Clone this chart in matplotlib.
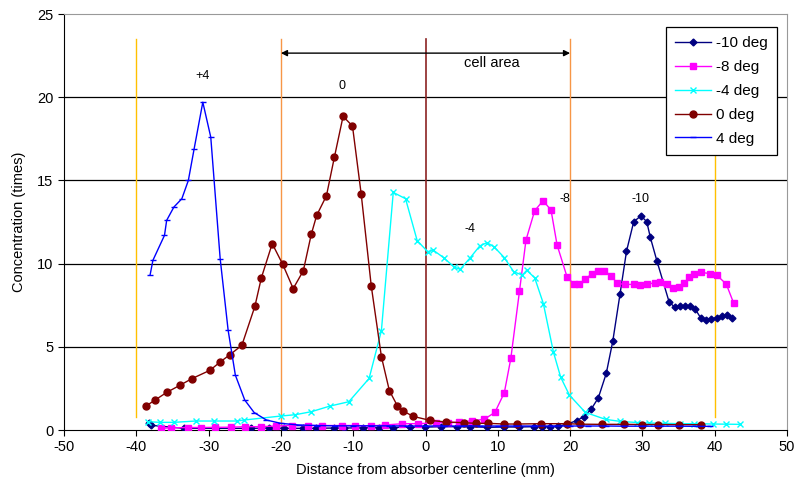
import matplotlib
matplotlib.use("Agg")
import matplotlib.pyplot as plt

plt.rcParams['font.family'] = ['Liberation Sans', 'DejaVu Sans']
plt.rcParams['axes.unicode_minus'] = False

# ---- data ----
x_p4 = [-38.1, -37.7, -36.1, -35.8, -34.8, -33.7, -32.8, -32.0, -30.8, -29.7, -28.4, -27.3,
        -26.3, -25.0, -23.7, -22.0, -20.0, -17.5, -15.0, -12.5, -10.0, -7.5, -5.0, -2.5, 0.0,
        2.5, 5.0, 7.5, 10.0, 12.5, 15.0, 17.5, 20.0, 22.5, 25.0, 27.5, 30.0, 32.5, 35.0, 37.5, 39.4]
y_p4 = [9.3, 10.2, 11.7, 12.6, 13.4, 13.9, 15.0, 16.9, 19.7, 17.6, 10.3, 6.0,
        3.3, 1.8, 1.05, 0.6, 0.4, 0.3, 0.27, 0.25, 0.25, 0.25, 0.25, 0.24, 0.24,
        0.24, 0.24, 0.24, 0.24, 0.24, 0.24, 0.24, 0.24, 0.24, 0.24, 0.23, 0.23, 0.23, 0.23, 0.22, 0.22]

x_0 = [-38.6, -37.4, -35.8, -34.0, -32.3, -29.8, -28.4, -27.1, -25.4, -23.6, -22.7, -21.2,
       -19.75, -18.3, -16.9, -15.8, -15.05, -13.7, -12.6, -11.4, -10.1, -8.9, -7.5, -6.1,
       -5.0, -3.9, -3.1, -1.7, 0.6, 2.9, 5.3, 7.0, 8.7, 10.9, 12.7, 16.0, 19.6, 21.4, 24.4,
       27.4, 29.9, 32.2, 35.0, 38.1]
y_0 = [1.46, 1.8, 2.26, 2.68, 3.09, 3.59, 4.09, 4.51, 5.09, 7.43, 9.15, 11.2,
       9.96, 8.5, 9.57, 11.76, 12.9, 14.08, 16.4, 18.85, 18.27, 14.2, 8.65, 4.41,
       2.37, 1.46, 1.14, 0.82, 0.58, 0.48, 0.44, 0.4, 0.4, 0.36, 0.36, 0.38, 0.38, 0.35, 0.34,
       0.34, 0.33, 0.33, 0.32, 0.32]

x_m4 = [-38.4, -36.7, -34.8, -31.8, -29.2, -26.1, -25.1, -20.0, -18.0, -15.8, -13.2, -10.6,
        -7.8, -6.1, -4.46, -2.76, -1.15, 0.3, 1.1, 2.5, 4.0, 4.8, 6.2, 7.5, 8.5, 9.5, 10.9,
        12.2, 13.4, 14.0, 15.1, 16.3, 17.7, 18.7, 19.9, 22.1, 24.9, 26.9, 29.2, 30.9, 33.1,
        35.2, 37.2, 39.8, 41.6, 43.5]
y_m4 = [0.5, 0.46, 0.46, 0.54, 0.54, 0.54, 0.6, 0.84, 0.92, 1.1, 1.44, 1.7,
        3.1, 5.97, 14.28, 13.9, 11.38, 10.72, 10.8, 10.36, 9.78, 9.66, 10.36, 11.06, 11.26, 11.0, 10.36,
        9.51, 9.31, 9.6, 9.15, 7.6, 4.67, 3.17, 2.1, 1.06, 0.64, 0.52, 0.45, 0.42, 0.4,
        0.38, 0.38, 0.36, 0.35, 0.34]

x_m8 = [-36.6, -35.2, -32.9, -31.1, -29.1, -26.9, -24.9, -22.8, -20.7, -18.5, -16.3, -14.3,
        -11.5, -9.8, -7.5, -5.6, -3.2, -1.0, 1.5, 3.1, 4.6, 6.4, 8.1, 9.6, 10.9, 11.8, 13.0,
        13.9, 15.1, 16.26, 17.36, 18.2, 19.6, 20.6, 21.2, 22.1, 23.0, 23.9, 24.7, 25.7, 26.5,
        27.6, 28.8, 29.7, 30.6, 31.7, 32.5, 33.4, 34.3, 35.0, 35.8, 36.4, 37.1, 38.1, 39.4,
        40.3, 41.6, 42.6]
y_m8 = [0.1, 0.13, 0.15, 0.15, 0.16, 0.17, 0.2, 0.2, 0.24, 0.27, 0.27, 0.27,
        0.27, 0.27, 0.25, 0.3, 0.38, 0.38, 0.44, 0.44, 0.46, 0.56, 0.64, 1.06, 2.24, 4.3, 8.35,
        11.42, 13.18, 13.78, 13.22, 11.12, 9.17, 8.75, 8.75, 9.05, 9.4, 9.55, 9.57, 9.27, 8.81,
        8.75, 8.75, 8.71, 8.75, 8.85, 8.91, 8.75, 8.55, 8.57, 8.81, 9.17, 9.4, 9.47, 9.4,
        9.3, 8.77, 7.65]

x_m10 = [-38.2, -37.9, -33.4, -29.0, -24.2, -21.6, -19.6, -17.0, -15.2, -12.7, -11.3, -8.7,
         -6.5, -4.5, -2.2, -0.1, 2.1, 4.3, 6.2, 8.5, 10.9, 13.0, 15.0, 16.1, 17.2, 18.3, 19.6,
         20.9, 21.9, 22.9, 23.9, 25.0, 25.9, 26.9, 27.8, 28.8, 29.8, 30.6, 31.1, 32.0, 33.7,
         34.5, 35.2, 35.9, 36.6, 37.3, 38.1, 38.8, 39.5, 40.3, 41.0, 41.7, 42.4]
y_m10 = [0.42, 0.28, 0.1, 0.1, 0.1, 0.12, 0.1, 0.1, 0.1, 0.12, 0.12, 0.13,
         0.15, 0.15, 0.17, 0.17, 0.2, 0.2, 0.2, 0.16, 0.18, 0.18, 0.2, 0.2, 0.2, 0.22, 0.36,
         0.56, 0.8, 1.24, 1.93, 3.4, 5.33, 8.16, 10.74, 12.52, 12.87, 12.52, 11.57, 10.17, 7.69,
         7.37, 7.45, 7.47, 7.45, 7.27, 6.71, 6.61, 6.67, 6.75, 6.85, 6.89, 6.75]

xticks = [-50, -40, -30, -20, -10, 0, 10, 20, 30, 40, 50]
yticks = [0, 5, 10, 15, 20, 25]

peak_labels = ['+4', '0', '-4', '-8', '-10']
peak_x = [-30.9, -11.5, 6.1, 19.3, 29.8]
peak_y = [21.3, 20.7, 12.1, 13.9, 13.9]

# ---- figure ----
fig = plt.figure(figsize=(7.96, 4.92), dpi=100)
ax = fig.add_axes([0.0804, 0.126, 0.9083, 0.8455])
ax.set_xlim(-50, 50)
ax.set_ylim(0, 25)

for yv in [5, 10, 15, 20]:
    ax.axhline(yv, color='#000000', lw=0.9, zorder=0)

# reference vertical lines
ax.plot([-40, -40], [0.8, 23.5], color='#FFC000', lw=1.0, zorder=1)
ax.plot([40, 40], [0.8, 23.5], color='#FFC000', lw=1.0, zorder=1)
ax.plot([-20, -20], [0, 23.5], color='#F79646', lw=1.0, zorder=1)
ax.plot([20, 20], [0, 23.5], color='#F79646', lw=1.0, zorder=1)
ax.plot([0, 0], [0, 23.5], color='#8B2323', lw=1.2, zorder=1)

ax.annotate('', xy=(-20, 22.65), xytext=(20, 22.65),
            arrowprops=dict(arrowstyle='<|-|>', color='black', lw=1.0,
                            mutation_scale=9, shrinkA=0, shrinkB=0))
ax.text(9.2, 22.05, 'cell area', ha='center', va='center', fontsize=10.5)

ax.plot(x_m10, y_m10, color='#000080', marker='D', ms=3.5, lw=1.0, label='-10 deg', zorder=3)
ax.plot(x_m8, y_m8, color='#FF00FF', marker='s', ms=5, lw=1.0, label='-8 deg', zorder=3)
ax.plot(x_m4, y_m4, color='#00FFFF', marker='x', ms=5, mew=1.0, lw=1.0, label='-4 deg', zorder=3)
ax.plot(x_0, y_0, color='#800000', marker='o', ms=5, lw=1.0, label='0 deg', zorder=3)
ax.plot(x_p4, y_p4, color='#0000FF', marker='_', ms=4, lw=1.0, label='4 deg', zorder=3)

for t, px, py in zip(peak_labels, peak_x, peak_y):
    ax.text(px, py, t, ha='center', va='center', fontsize=9)

ax.set_xticks(xticks)
ax.set_yticks(yticks)
ax.tick_params(direction='out', length=4, width=0.8, labelsize=10.5, color='black')
for s in ['top', 'right']:
    ax.spines[s].set_color('#999999')
for s in ['left', 'bottom']:
    ax.spines[s].set_color('black')

ax.set_xlabel('Distance from absorber centerline (mm)', fontsize=10.5, labelpad=6)
ax.set_ylabel('Concentration (times)', fontsize=10.5, labelpad=8)

leg = ax.legend(loc='upper right', bbox_to_anchor=(0.986, 0.969), borderaxespad=0,
                fontsize=11, frameon=True, fancybox=False, framealpha=1, edgecolor='black',
                handlelength=2.4, handletextpad=0.3, labelspacing=0.65, borderpad=0.6)
leg.get_frame().set_linewidth(0.9)

fig.savefig('out.png', dpi=100)
